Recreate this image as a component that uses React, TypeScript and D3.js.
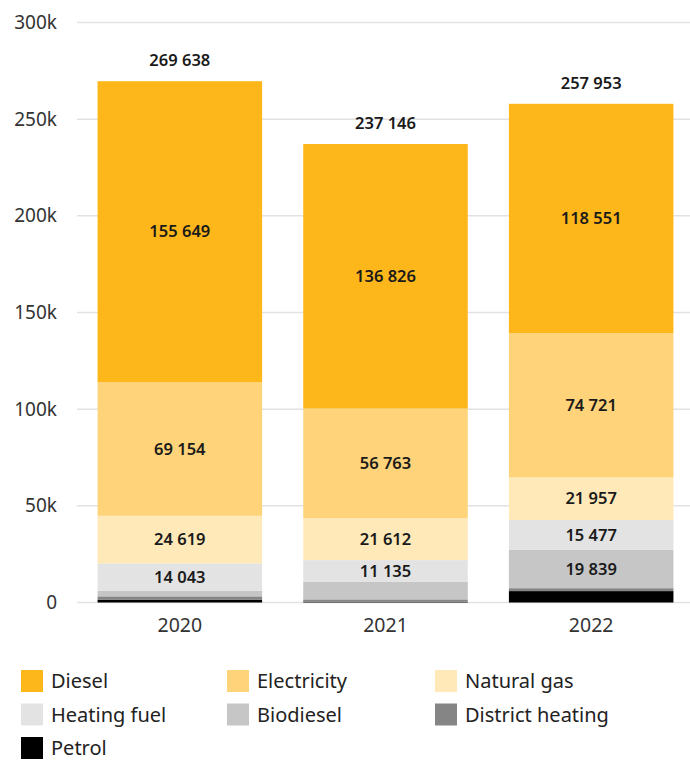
import React from "react";
import * as d3 from "d3";

const years = ["2020", "2021", "2022"];
const fuels = ["Petrol", "District heating", "Biodiesel", "Heating fuel", "Natural gas", "Electricity", "Diesel"];
const colors = ["#000000", "#858585", "#c6c6c6", "#e3e3e3", "#ffe9b8", "#fed379", "#fdb71a"];

const petrol = [1473, 410, 5900];
const districtHeating = [1700, 1200, 1508];
const biodiesel = [3000, 9200, 19839];
const heatingFuel = [14043, 11135, 15477];
const naturalGas = [24619, 21612, 21957];
const electricity = [69154, 56763, 74721];
const diesel = [155649, 136826, 118551];

const yTicks = [0, 50000, 100000, 150000, 200000, 250000, 300000];

const legendOrder = ["Diesel", "Electricity", "Natural gas", "Heating fuel", "Biodiesel", "District heating", "Petrol"];

const W = 690;
const H = 760;
const FONT = "'Noto Sans', 'Open Sans', sans-serif";

export default function App() {
  const series = [petrol, districtHeating, biodiesel, heatingFuel, naturalGas, electricity, diesel];
  const rows = years.map((year, i) => {
    const r: any = { year };
    fuels.forEach((f, j) => (r[f] = series[j][i]));
    return r;
  });
  const stacked = d3.stack().keys(fuels)(rows);
  const totals = rows.map((r) => d3.sum(fuels, (f) => r[f]));

  const x = d3.scaleBand().domain(years).range([77, 694]).paddingInner(0.2).paddingOuter(0.1);
  const y = d3.scaleLinear().domain([0, 300000]).range([602.5, 22.5]);
  const color = d3.scaleOrdinal<string, string>().domain(fuels).range(colors);

  const fmt = d3.formatLocale({ decimal: ".", thousands: "\u00a0", grouping: [3], currency: ["", ""] }).format(",d");
  const tickFmt = (v: number) => (v === 0 ? "0" : `${v / 1000}k`);

  return (
    <svg width={W} height={H} style={{ position: "absolute", left: 0, top: 0, background: "#fff" }}>
      <g>
        {yTicks.map((t) => (
          <g key={t}>
            <line x1={77} x2={W} y1={y(t)} y2={y(t)} stroke="#e2e2e2" strokeWidth={1.5} />
            <text x={57} y={y(t)} dy="0.35em" textAnchor="end" fontFamily={FONT} fontSize={19} fill="#333">
              {tickFmt(t)}
            </text>
          </g>
        ))}
      </g>
      <g>
        {stacked.map((s) => (
          <g key={s.key} fill={color(s.key)}>
            {s.map((d, i) => {
              const h = y(d[0]) - y(d[1]);
              return (
                <g key={years[i]}>
                  <rect x={x(years[i])} y={y(d[1])} width={x.bandwidth()} height={h} />
                  {h > 20 && (
                    <text
                      x={(x(years[i]) as number) + x.bandwidth() / 2}
                      y={(y(d[0]) + y(d[1])) / 2}
                      dy="0.35em"
                      textAnchor="middle"
                      fontFamily={FONT}
                      fontWeight={600}
                      fontSize={16.5}
                      fill="#1a1a1a"
                    >
                      {fmt(d[1] - d[0])}
                    </text>
                  )}
                </g>
              );
            })}
          </g>
        ))}
      </g>
      <g>
        {years.map((yr, i) => (
          <text
            key={yr}
            x={(x(yr) as number) + x.bandwidth() / 2}
            y={y(totals[i]) - 15}
            textAnchor="middle"
            fontFamily={FONT}
            fontWeight={600}
            fontSize={16.5}
            fill="#1a1a1a"
          >
            {fmt(totals[i])}
          </text>
        ))}
      </g>
      <g>
        {years.map((yr) => (
          <text
            key={yr}
            x={(x(yr) as number) + x.bandwidth() / 2}
            y={625}
            dy="0.35em"
            textAnchor="middle"
            fontFamily={FONT}
            fontSize={19.5}
            fill="#333"
          >
            {yr}
          </text>
        ))}
      </g>
      <g>
        {legendOrder.map((f, i) => {
          const col = i % 3;
          const row = Math.floor(i / 3);
          const lx = [21, 227, 435][col];
          const ly = 670 + row * 33.5;
          return (
            <g key={f} transform={`translate(${lx},${ly})`}>
              <rect width={22} height={22} fill={color(f)} />
              <text x={30} y={11} dy="0.35em" fontFamily={FONT} fontSize={20} fill="#222">
                {f}
              </text>
            </g>
          );
        })}
      </g>
    </svg>
  );
}
